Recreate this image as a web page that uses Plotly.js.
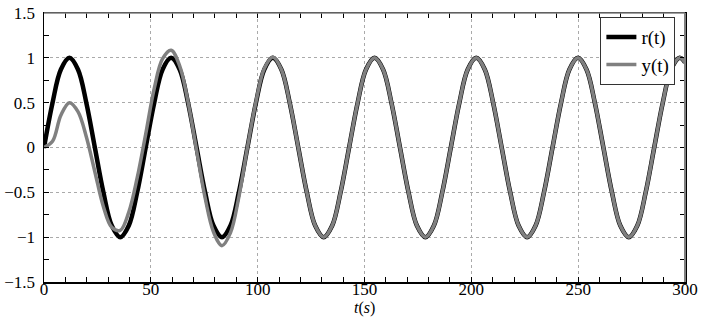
<!DOCTYPE html>
<html>
<head>
<meta charset="utf-8">
<script src="https://cdn.plot.ly/plotly-3.0.1.min.js"></script>
<style>
  html, body { margin: 0; padding: 0; background: #fff; }
  #plot { width: 706px; height: 318px; }
</style>
</head>
<body>
<div id="plot"></div>
<script>
// time samples (s)
var t = [0, 4.0, 7.9, 11.9, 15.9, 19.8, 23.8, 27.8, 31.7, 35.7, 39.7, 43.6,
  47.6, 51.6, 55.5, 59.5, 63.5, 67.4, 71.4, 75.4, 79.3, 83.3, 87.3, 91.2,
  95.2, 99.2, 103.1, 107.1, 111.1, 115.0, 119.0, 123.0, 126.9, 130.9, 134.9, 138.8,
  142.8, 146.8, 150.7, 154.7, 158.7, 162.6, 166.6, 170.6, 174.5, 178.5, 182.5, 186.4,
  190.4, 194.4, 198.3, 202.3, 206.3, 210.2, 214.2, 218.2, 222.1, 226.1, 230.1, 234.0,
  238.0, 242.0, 245.9, 249.9, 253.9, 257.8, 261.8, 265.8, 269.7, 273.7, 277.7, 281.6,
  285.6, 289.6, 293.5, 297.5, 300];

// reference r(t)
var r = [0, 0.5, 0.87, 1, 0.87, 0.5, 0, -0.5, -0.87, -1, -0.87, -0.5,
  0, 0.5, 0.87, 1, 0.87, 0.5, 0, -0.5, -0.87, -1, -0.87, -0.5,
  0, 0.5, 0.87, 1, 0.87, 0.5, 0, -0.5, -0.87, -1, -0.87, -0.5,
  0, 0.5, 0.87, 1, 0.87, 0.5, 0, -0.5, -0.87, -1, -0.87, -0.5,
  0, 0.5, 0.87, 1, 0.87, 0.5, 0, -0.5, -0.87, -1, -0.87, -0.5,
  0, 0.5, 0.87, 1, 0.87, 0.5, 0, -0.5, -0.87, -1, -0.87, -0.5,
  0, 0.5, 0.87, 1, 0.95];

// output y(t)
var y = [0, 0.07, 0.36, 0.5, 0.4, 0.12, -0.27, -0.66, -0.89, -0.925, -0.72, -0.34,
  0.15, 0.66, 0.99, 1.085, 0.91, 0.51, -0.03, -0.56, -0.94, -1.095, -0.95, -0.55,
  0, 0.51, 0.88, 1.01, 0.87, 0.5, 0, -0.5, -0.87, -1, -0.87, -0.5,
  0, 0.5, 0.87, 1, 0.87, 0.5, 0, -0.5, -0.87, -1, -0.87, -0.5,
  0, 0.5, 0.87, 1, 0.87, 0.5, 0, -0.5, -0.87, -1, -0.87, -0.5,
  0, 0.5, 0.87, 1, 0.87, 0.5, 0, -0.5, -0.87, -1, -0.87, -0.5,
  0, 0.5, 0.87, 1, 0.95];

var serif = "'Liberation Serif', 'DejaVu Serif', serif";
var tickFont = { family: serif, size: 17, color: '#000' };

var traceR = {
  x: t, y: r, type: 'scatter', mode: 'lines', name: 'r(t)',
  line: { color: '#000000', width: 4.5, shape: 'spline', smoothing: 1 }
};
var traceY = {
  x: t, y: y, type: 'scatter', mode: 'lines', name: 'y(t)',
  line: { color: '#808080', width: 3.5, shape: 'spline', smoothing: 1 }
};

var layout = {
  width: 706, height: 318,
  margin: { l: 44, r: 21, t: 13, b: 36, pad: 0 },
  paper_bgcolor: '#ffffff',
  plot_bgcolor: '#ffffff',
  font: { family: serif, size: 17, color: '#000' },
  showlegend: true,
  legend: {
    x: 0.985, y: 0.985, xanchor: 'right', yanchor: 'top',
    bgcolor: '#ffffff', bordercolor: '#333', borderwidth: 1,
    font: { family: serif, size: 19, color: '#000' },
    tracegroupgap: 0
  },
  xaxis: {
    range: [0, 300], dtick: 50, tick0: 0,
    ticks: 'inside', ticklen: 5, tickcolor: '#000',
    showline: true, linecolor: '#000', linewidth: 1.5, mirror: 'ticks',
    showgrid: true, gridcolor: '#aaaaaa', griddash: 'dot', gridwidth: 1,
    zeroline: false,
    minor: { dtick: 10, ticks: 'inside', ticklen: 5, tickcolor: '#000', showgrid: false },
    tickfont: tickFont,
    ticklabelstandoff: -9,
    automargin: false
  },
  yaxis: {
    range: [-1.5, 1.5], dtick: 0.5, tick0: 0,
    ticks: 'inside', ticklen: 5, tickcolor: '#000',
    showline: true, linecolor: '#000', linewidth: 1.5, mirror: 'ticks',
    showgrid: true, gridcolor: '#aaaaaa', griddash: 'dot', gridwidth: 1,
    zeroline: false,
    minor: { dtick: 0.25, ticks: 'inside', ticklen: 5, tickcolor: '#000', showgrid: false },
    tickfont: tickFont,
    ticklabelstandoff: 4,
    automargin: false
  },
  annotations: [
    { text: '<i>t</i>(<i>s</i>)', xref: 'paper', yref: 'paper', x: 0.5, y: -0.098,
      xanchor: 'center', yanchor: 'middle', showarrow: false,
      font: { family: serif, size: 16, color: '#000' } }
  ],
  shapes: [
    { type: 'line', xref: 'paper', yref: 'paper', x0: 0, x1: 1, y0: 1, y1: 1,
      line: { color: '#808080', width: 1.5 } },
    { type: 'line', xref: 'paper', yref: 'paper', x0: 1, x1: 1, y0: 0, y1: 1,
      line: { color: '#808080', width: 2 } }
  ]
};

Plotly.newPlot('plot', [traceR, traceY], layout, { displayModeBar: false, staticPlot: true });
</script>
</body>
</html>
